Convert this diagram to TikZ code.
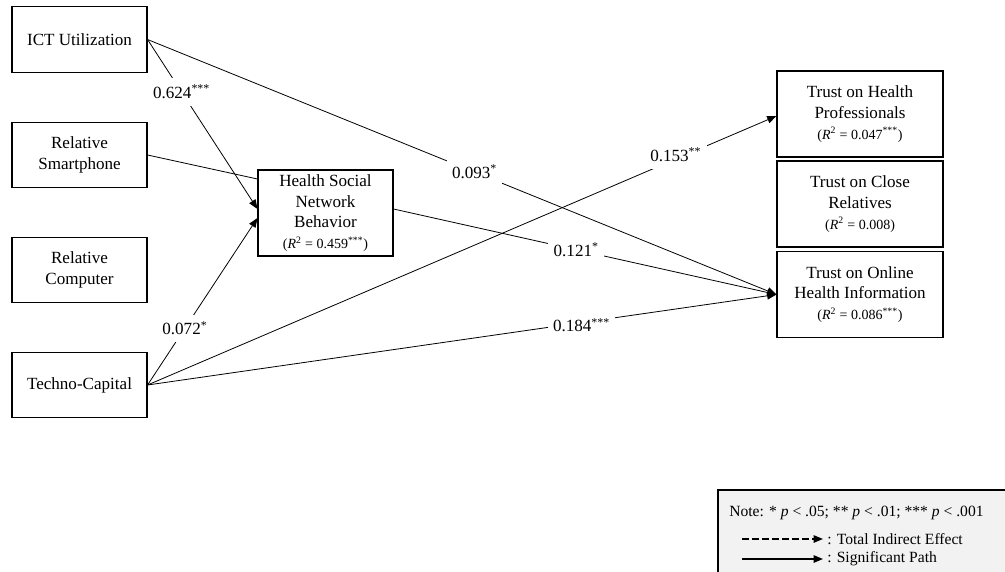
\documentclass[tikz,border=0pt]{standalone}
\usepackage{fontspec}
\setmainfont{Liberation Serif}
\usetikzlibrary{arrows.meta}
\definecolor{legendgray}{RGB}{242,242,242}
\begin{document}
\begin{tikzpicture}[x=0.75pt,y=-0.75pt,
  box/.style={draw, line width=0.8pt, align=center, font=\fontsize{12.8}{15.5}\selectfont, inner sep=0pt},
  lbox/.style={box, minimum width=101.25pt, minimum height=49pt},
  mbox/.style={box, minimum width=101.25pt, minimum height=64.5pt},
  rbox/.style={box, minimum width=124.5pt, minimum height=64.5pt},
  conn/.style={line width=0.6pt},
  arr/.style={conn, -{Triangle[length=7pt,width=5.5pt]}},
  lab/.style={fill=white, inner xsep=4pt, inner ysep=5pt, font=\fontsize{12.8}{15}\selectfont},
  legtext/.style={anchor=west, inner sep=0pt, font=\fontsize{11.7}{14}\selectfont},
  legarr/.style={line width=1.1pt, -{Triangle[length=7pt,width=5.5pt]}}]
\newcommand{\rsq}[1]{{\fontsize{10.5}{12}\selectfont (\textit{R}\textsuperscript{2} = #1)}}
\newcommand{\stars}[1]{\textsuperscript{#1}}
\useasboundingbox (0,0) rectangle (1005,571);

% legend background
\fill[legendgray] (718,490) rectangle (1010,575);
\draw[line width=0.8pt] (1010,490) -- (718,490) -- (718,575);

% nodes
\node[lbox] (ict) at (79.5,39.5) {ICT Utilization};
\node[lbox] (rs) at (79.5,155) {Relative\\Smartphone};
\node[lbox] (rc) at (79.5,270) {Relative\\Computer};
\node[lbox] (tc) at (79.5,385) {Techno-Capital};
\node[mbox] (hsnb) at (325.5,213) {Health Social\\Network\\Behavior\\\rsq{0.459\stars{***}}};
\node[rbox] (th) at (860,114) {Trust on Health\\Professionals\\\rsq{0.047\stars{***}}};
\node[rbox] (tcr) at (860,204) {Trust on Close\\Relatives\\\rsq{0.008}};
\node[rbox] (to) at (860,294.5) {Trust on Online\\Health Information\\\rsq{0.086\stars{***}}};

% paths
\draw[conn] (rs.east) -- ([yshift=25.5pt]hsnb.west);
\draw[arr] (ict.east) -- node[lab,pos=0.31]{0.624\stars{***}} ([yshift=3pt]hsnb.west);
\draw[arr] (tc.east) -- node[lab,pos=0.34]{0.072\stars{*}} ([yshift=-3.75pt]hsnb.west);
\draw[arr] (ict.east) -- node[lab,pos=0.52]{0.093\stars{*}} (to.west);
\draw[arr] ([yshift=3pt]hsnb.east) -- node[lab,pos=0.477]{0.121\stars{*}} (to.west);
\draw[arr] (tc.east) -- node[lab,pos=0.84,yshift=3pt]{0.153\stars{**}} ([yshift=-1.5pt]th.west);
\draw[arr] (tc.east) -- node[lab,pos=0.69,yshift=-2pt]{0.184\stars{***}} (to.west);

% legend
\node[legtext] (note) at (729,513) {Note: * \textit{p} < .05; ** \textit{p} < .01; *** \textit{p} < .001};
\coordinate (d1) at (742,539);
\coordinate (d2) at (823,539);
\draw[legarr, dash pattern=on 5pt off 2.5pt] (d1) -- (d2);
\node[legtext] (tie) at (827,539) {: Total Indirect Effect};
\coordinate (s1) at (742,559);
\coordinate (s2) at (823,559);
\draw[legarr] (s1) -- (s2);
\node[legtext] (sp) at (827,559) {: Significant Path};
\end{tikzpicture}
\end{document}
